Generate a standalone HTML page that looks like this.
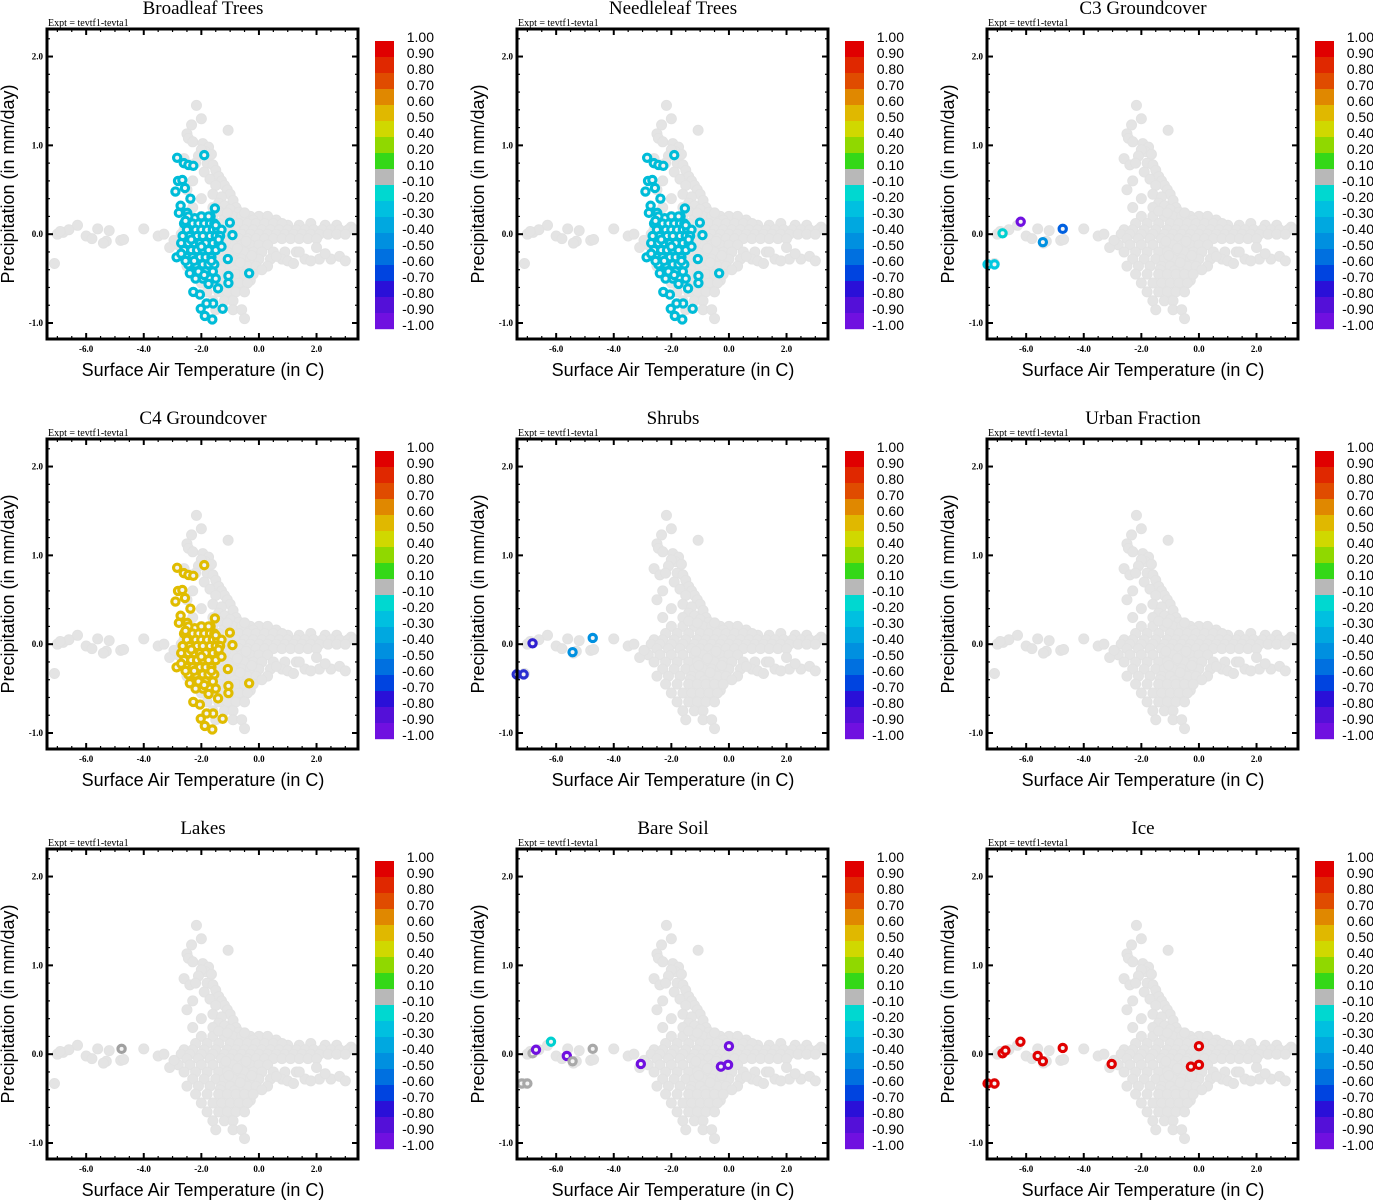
<!DOCTYPE html>
<html><head><meta charset="utf-8"><style>
html,body{margin:0;padding:0;background:#fff;}
svg{display:block;}
.ttl{font-family:"Liberation Serif",serif;font-size:19px;}
.expt{font-family:"Liberation Serif",serif;font-size:10px;}
.tick{font-family:"Liberation Serif",serif;font-size:9px;font-weight:bold;}
.axl{font-family:"Liberation Sans",sans-serif;font-size:18px;}
.cbl{font-family:"Liberation Sans",sans-serif;font-size:14px;}
</style></head><body>
<svg id="fig" width="1373" height="1200" viewBox="0 0 1373 1200" xmlns="http://www.w3.org/2000/svg"></svg>
<script>
const panelTitles = ["Broadleaf Trees","Needleleaf Trees","C3 Groundcover","C4 Groundcover","Shrubs","Urban Fraction","Lakes","Bare Soil","Ice"];
const xTicks = [-6,-4,-2,0,2];
const yTicks = [2,1,0,-1];
const cbLabels = ["1.00","0.90","0.80","0.70","0.60","0.50","0.40","0.20","0.10","-0.10","-0.20","-0.30","-0.40","-0.50","-0.60","-0.70","-0.80","-0.90","-1.00"];
const cbColors = ["#e00000","#e02800","#e04c00","#e08800","#e0b800","#d0d800","#90d800","#34d818","#b8b8b8","#00d8d0","#00c0e0","#00a8e0","#0090e0","#0070e0","#0044e0","#2a10d8","#5410d8","#7010e0"];
const grayPoints = [
[-2.17,1.45],[-2.0,1.30],[-2.34,1.23],[-1.07,1.17],[-2.5,1.13],[-2.45,1.08],[-2.3,1.04],[-1.95,1.02],[-1.75,0.98],[-1.85,0.93],[-2.0,0.95],[-1.65,0.9],[-2.1,0.88],[-2.6,0.85],[-2.4,0.78],[-2.2,0.8],[-1.8,0.8],[-1.6,0.78],[-1.5,0.72],[-1.9,0.7],[-1.4,0.65],[-1.7,0.62],[-2.3,0.6],[-2.5,0.5],[-1.3,0.6],[-1.2,0.55],[-1.5,0.55],[-1.1,0.5],[-1.6,0.45],[-1.0,0.45],[-1.3,0.42],[-2.0,0.4],[-1.4,0.35],[-0.9,0.38],[-1.2,0.32],[-0.8,0.3],[-1.6,0.3],[-1.0,0.28],[-2.3,0.3],[-0.7,0.25],
[-2.0,0.2],[-1.6,0.2],[-1.2,0.2],[-0.9,0.2],[-0.6,0.2],[-0.3,0.2],[0.0,0.2],[0.3,0.2],
[-1.4,0.26],[-1.1,0.24],[-0.5,0.24],[-0.2,0.16],[0.6,0.16],[1.0,0.1],[1.4,0.1],[1.8,0.12],[2.3,0.1],[2.7,0.1],[3.2,0.08],
[-2.2,0.12],[-1.8,0.12],[-1.4,0.12],[-1.0,0.12],[-0.7,0.12],[-0.4,0.12],[-0.1,0.12],[0.2,0.12],[0.5,0.12],[0.8,0.12],
[-2.6,0.05],[-2.3,0.05],[-1.9,0.05],[-1.5,0.05],[-1.1,0.05],[-0.8,0.05],[-0.5,0.05],[-0.2,0.05],[0.1,0.05],[0.4,0.05],[0.7,0.05],[1.0,0.05],[1.3,0.05],[1.6,0.05],[1.9,0.05],[2.2,0.05],[2.5,0.05],[2.8,0.05],[3.1,0.05],[3.3,0.05],
[-2.7,0.0],[-2.4,0.0],[-2.0,0.0],[-1.6,0.0],[-1.2,0.0],[-0.9,0.0],[-0.6,0.0],[-0.3,0.0],[0.0,0.0],[0.3,0.0],[0.6,0.0],[0.9,0.0],[1.2,0.0],[1.5,0.0],[1.8,0.0],[2.1,0.0],[2.4,0.0],[2.7,0.0],[3.0,0.0],
[-2.5,-0.05],[-2.1,-0.05],[-1.7,-0.05],[-1.3,-0.05],[-1.0,-0.05],[-0.7,-0.05],[-0.4,-0.05],[-0.1,-0.05],[0.2,-0.05],[0.5,-0.05],[0.8,-0.05],[1.1,-0.05],[1.4,-0.05],[1.7,-0.05],[2.0,-0.05],
[-2.8,-0.12],[-2.4,-0.12],[-2.0,-0.12],[-1.6,-0.12],[-1.2,-0.12],[-0.9,-0.12],[-0.6,-0.12],[-0.3,-0.12],[0.0,-0.12],[0.3,-0.12],
[-2.6,-0.2],[-2.2,-0.2],[-1.8,-0.2],[-1.4,-0.2],[-1.1,-0.2],[-0.8,-0.2],[-0.5,-0.2],[-0.2,-0.2],[0.1,-0.2],[0.5,-0.2],[0.9,-0.2],[1.3,-0.2],
[-2.3,-0.28],[-1.9,-0.28],[-1.5,-0.28],[-1.2,-0.28],[-0.9,-0.28],[-0.6,-0.28],[-0.3,-0.28],[0.0,-0.28],[0.4,-0.28],[0.8,-0.28],[1.6,-0.28],[2.1,-0.28],[2.5,-0.28],
[-2.5,-0.36],[-2.1,-0.36],[-1.7,-0.36],[-1.3,-0.36],[-1.0,-0.36],[-0.7,-0.36],[-0.4,-0.36],[-0.1,-0.36],[0.3,-0.36],
[-1.15,-0.08],[-0.75,-0.16],[-0.45,-0.08],[-1.05,-0.24],[-0.65,-0.32],[-0.25,-0.24],[-1.35,-0.4],[-0.85,-0.41],[-0.55,-0.5],[-1.2,-0.6],[-0.95,-0.7],[-0.65,-0.6],[-0.3,-0.52],[0.1,-0.4],
[-2.2,-0.45],[-1.8,-0.45],[-1.4,-0.45],[-1.1,-0.45],[-0.8,-0.45],[-0.5,-0.45],[-0.2,-0.45],
[-2.0,-0.55],[-1.6,-0.55],[-1.3,-0.55],[-1.0,-0.55],[-0.7,-0.55],[-0.4,-0.55],
[-1.8,-0.65],[-1.4,-0.65],[-1.1,-0.65],[-0.8,-0.65],[-0.5,-0.65],
[-1.6,-0.75],[-1.2,-0.75],[-0.9,-0.75],[-1.5,-0.85],[-0.9,-0.85],[-0.6,-0.85],[-0.5,-0.95],
[0.6,-0.25],[1.0,-0.3],[1.4,-0.2],[1.8,-0.3],[2.3,-0.22],[2.8,-0.25],[3.0,-0.3],[2.0,-0.15],[1.2,-0.33],
[-7.1,-0.33],[-6.8,0.02],[-6.6,0.05],[-6.3,0.1],[-6.0,-0.02],[-5.8,-0.05],[-5.6,0.06],[-5.3,-0.08],[-5.2,0.04],[-4.8,-0.07],[-4.7,-0.06],[-4.0,0.06],[-3.5,-0.02],[-3.3,0.0],[-3.1,-0.15],[-2.95,-0.07],[-7.0,0.0],[-5.4,-0.1],[-6.9,0.03]
];
const clusterPoints = [
[-2.84,0.86],[-1.90,0.89],[-2.61,0.80],[-2.45,0.78],[-2.28,0.77],[-2.81,0.60],[-2.66,0.61],[-2.90,0.48],[-2.57,0.52],[-2.38,0.40],[-2.72,0.32],[-2.78,0.24],[-2.49,0.24],[-1.53,0.29],[-2.23,0.18],[-1.68,0.20],[-1.01,0.13],[-0.92,-0.01],[-2.86,-0.26],[-1.08,-0.28],[-0.34,-0.44],[-1.06,-0.47],[-1.06,-0.55],[-2.28,-0.65],[-2.05,-0.68],[-1.42,-0.61],[-1.59,-0.78],[-1.82,-0.78],[-2.02,-0.84],[-1.26,-0.84],[-1.88,-0.92],[-1.62,-0.96],
[-2.45,0.2],[-2.0,0.2],[-1.75,0.2],
[-2.6,0.12],[-2.3,0.12],[-2.1,0.12],[-1.9,0.12],[-1.7,0.12],[-1.55,0.12],
[-2.5,0.05],[-2.2,0.05],[-2.0,0.05],[-1.8,0.05],[-1.6,0.05],[-1.45,0.05],[-1.3,0.05],
[-2.65,-0.02],[-2.4,-0.02],[-2.15,-0.02],[-1.95,-0.02],[-1.7,-0.02],[-1.5,-0.02],[-1.35,-0.02],
[-2.7,-0.1],[-2.45,-0.1],[-2.25,-0.1],[-2.05,-0.1],[-1.85,-0.1],[-1.6,-0.1],[-1.4,-0.1],
[-2.6,-0.18],[-2.35,-0.18],[-2.15,-0.18],[-1.95,-0.18],[-1.75,-0.18],[-1.5,-0.18],
[-2.5,-0.26],[-2.3,-0.26],[-2.05,-0.26],[-1.85,-0.26],[-1.65,-0.26],
[-2.45,-0.34],[-2.2,-0.34],[-1.95,-0.34],[-1.75,-0.34],[-1.55,-0.34],
[-2.35,-0.42],[-2.1,-0.42],[-1.85,-0.42],[-1.6,-0.42],
[-2.2,-0.5],[-1.95,-0.5],[-1.7,-0.5],[-1.5,-0.5],
[-2.55,0.15],[-2.35,-0.06],[-2.0,-0.14],[-1.65,-0.3],[-2.25,-0.3],[-1.9,-0.46],[-1.4,-0.06],[-1.5,0.1],[-2.7,-0.22],[-1.3,-0.14],[-2.4,-0.44],[-1.75,-0.56],[-2.55,-0.3]
];
const c3Points = [[-7.34,-0.34],[-7.1,-0.34],[-6.82,0.01],[-6.19,0.14],[-5.42,-0.09],[-4.73,0.06]];
const c3Colors = ["#00c8e0","#00c8e0","#00d0d0","#7010e0","#0090e0","#0060e0"];
const shrubPoints = [[-7.37,-0.34],[-7.13,-0.34],[-6.82,0.01],[-5.43,-0.09],[-4.73,0.07]];
const shrubColors = ["#2a30d0","#2a30d0","#3020d0","#0090e0","#0090e0"];
const lakePoints = [[-4.77,0.06]];
const lakeColors = ["#a0a0a0"];
const bareSoilPoints = [[-7.2,-0.33],[-7.0,-0.33],[-6.82,0.01],[-6.7,0.05],[-6.18,0.14],[-5.63,-0.02],[-5.43,-0.08],[-4.73,0.06],[-3.06,-0.11],[-0.28,-0.14],[-0.03,-0.12],[0.0,0.09]];
const bareSoilColors = ["#a8a8a8","#a8a8a8","#b0b0b0","#7010e0","#00d0d0","#7010e0","#a8a8a8","#a8a8a8","#7010e0","#7010e0","#7010e0","#7010e0"];
const icePoints = [[-7.34,-0.33],[-7.1,-0.33],[-6.82,0.01],[-6.72,0.04],[-6.2,0.14],[-5.6,-0.02],[-5.42,-0.08],[-4.73,0.07],[-3.03,-0.11],[-0.28,-0.14],[0.0,-0.12],[0.0,0.09]];

const NS="http://www.w3.org/2000/svg";
const svg=document.getElementById('fig');
function mk(tag,attrs,parent){const e=document.createElementNS(NS,tag);for(const k in attrs)e.setAttribute(k,attrs[k]);(parent||svg).appendChild(e);return e;}
const X0=-7.36,X1=3.44,Y0=-1.18,Y1=2.31;
const PL=47,PR=358,PT=29,PB=339;
function xs(t,ox){return ox+PL+(t-X0)/(X1-X0)*(PR-PL);}
function ys(p,oy){return oy+PB-(p-Y0)/(Y1-Y0)*(PB-PT);}

function colored(i){
  if(i===0||i===1)return clusterPoints.map(p=>[p,"#00bcd8"]);
  if(i===3)return clusterPoints.map(p=>[p,"#e0bc00"]);
  if(i===2)return c3Points.map((p,k)=>[p,c3Colors[k]]);
  if(i===4)return shrubPoints.map((p,k)=>[p,shrubColors[k]]);
  if(i===6)return lakePoints.map((p,k)=>[p,lakeColors[k]]);
  if(i===7)return bareSoilPoints.map((p,k)=>[p,bareSoilColors[k]]);
  if(i===8)return icePoints.map(p=>[p,"#e00000"]);
  return [];
}

panelTitles.forEach((title,i)=>{
  const ox=(i%3)*470, oy=Math.floor(i/3)*410;
  const g=mk('g',{});
  
  
  const t=mk('text',{x:ox+203,y:oy+14,'text-anchor':'middle',class:'ttl'},g);t.textContent=title;
  
  
  const ex=mk('text',{x:ox+48,y:oy+26,class:'expt'},g);ex.textContent='Expt = tevtf1-tevta1';
  
  
  const pg=mk('g',{},g);
  
  
  grayPoints.forEach(p=>{
    const c=mk('circle',{cx:xs(p[0],ox),cy:ys(p[1],oy),r:5,fill:'#e4e4e4',stroke:'#e2e2e2','stroke-width':1},pg);
    
    
  });
  colored(i).forEach(([p,col])=>{
    const c=mk('circle',{cx:xs(p[0],ox),cy:ys(p[1],oy),r:3.6,fill:'#f4f4f4',stroke:col,'stroke-width':3.2},pg);
    
    
  });
  const fr=mk('rect',{x:ox+PL,y:oy+PT,width:PR-PL,height:PB-PT,fill:'none',stroke:'#000','stroke-width':3},g);
  
  
  for(let v=-7;v<=3.01;v+=0.5){
    const x=xs(v,ox);const maj=Math.abs(v%2)<1e-6;const L=maj?6:3;
    mk('line',{x1:x,x2:x,y1:oy+PB,y2:oy+PB-L,stroke:'#000','stroke-width':maj?2:1.2},g);
    mk('line',{x1:x,x2:x,y1:oy+PT,y2:oy+PT+L,stroke:'#000','stroke-width':maj?2:1.2},g);
  }
  for(let k=-5;k<=11;k++){
    const v=k*0.2;const y=ys(v,oy);const maj=k%5===0;const L=maj?6:3;
    mk('line',{x1:ox+PL,x2:ox+PL+L,y1:y,y2:y,stroke:'#000','stroke-width':maj?2:1.2},g);
    mk('line',{x1:ox+PR,x2:ox+PR-L,y1:y,y2:y,stroke:'#000','stroke-width':maj?2:1.2},g);
  }
  xTicks.forEach(v=>{const tx=mk('text',{x:xs(v,ox),y:oy+352,'text-anchor':'middle',class:'tick'},g);tx.textContent=v.toFixed(1);
    
    });
  yTicks.forEach(v=>{const tx=mk('text',{x:ox+43,y:ys(v,oy)+3,'text-anchor':'end',class:'tick'},g);tx.textContent=v.toFixed(1);
    
    });
  const xl=mk('text',{x:ox+203,y:oy+376,'text-anchor':'middle',class:'axl'},g);xl.textContent='Surface Air Temperature (in C)';
  
  
  const yl=mk('text',{x:0,y:0,'text-anchor':'middle',class:'axl',transform:`translate(${ox+14},${oy+184}) rotate(-90)`},g);yl.textContent='Precipitation (in mm/day)';
  
  
  const cb=mk('g',{},g);
  
  
  cbColors.forEach((c,k)=>{const r=mk('rect',{x:ox+375,y:oy+41+k*16,width:19,height:16.2,fill:c},cb);
    
    });
  cbLabels.forEach((s,k)=>{const tx=mk('text',{x:ox+434,y:oy+42+k*16,'text-anchor':'end',class:'cbl'},cb);tx.textContent=s;
    
    });
});
</script>
</body></html>
